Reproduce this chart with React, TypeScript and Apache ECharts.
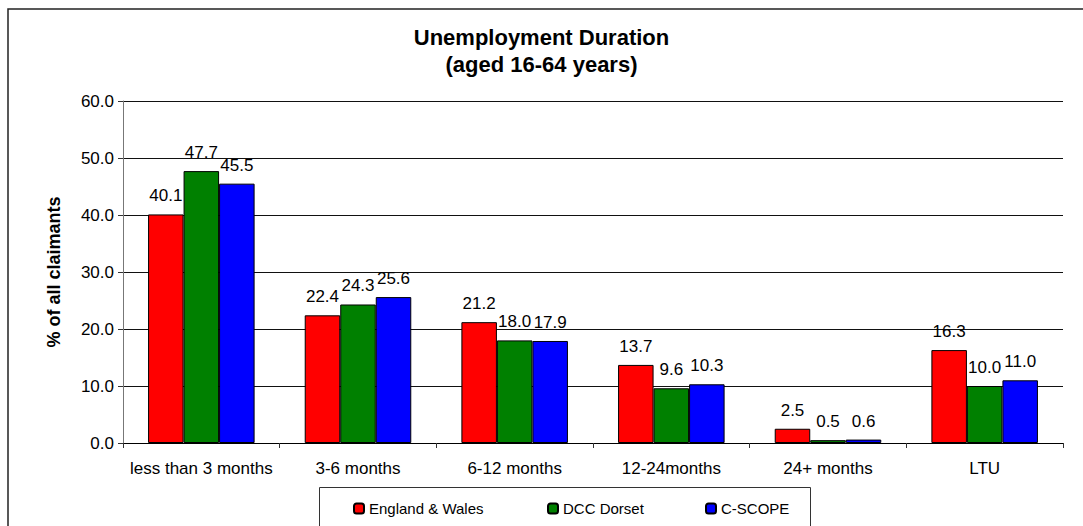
import React, { useEffect, useRef } from "react";
import * as echarts from "echarts";

const categories = ["less than 3 months", "3-6 months", "6-12 months", "12-24months", "24+ months", "LTU"];
const englandWales = [40.1, 22.4, 21.2, 13.7, 2.5, 16.3];
const dccDorset = [47.7, 24.3, 18.0, 9.6, 0.5, 10.0];
const cScope = [45.5, 25.6, 17.9, 10.3, 0.6, 11.0];
const seriesNames = ["England & Wales", "DCC Dorset", "C-SCOPE"];
const seriesColors = ["#ff0000", "#008000", "#0000ff"];
const titleLines = ["Unemployment Duration", "(aged 16-64 years)"];
const yAxisName = "% of all claimants";

const FONT = "'Liberation Sans', Arial, sans-serif";

export default function App() {
  const ref = useRef<HTMLDivElement>(null);
  useEffect(() => {
    if (!ref.current) return;
    const chart = echarts.init(ref.current, undefined, { renderer: "svg" });
    const values = [englandWales, dccDorset, cScope];
    const legendLefts = [353, 547, 705];
    chart.setOption({
      animation: false,
      backgroundColor: "#ffffff",
      textStyle: { fontFamily: FONT },
      title: {
        text: titleLines.join("\n"),
        left: "center",
        top: 24,
        padding: 0,
        textStyle: { fontFamily: FONT, fontSize: 22, fontWeight: "bold", color: "#000", lineHeight: 27 },
      },
      graphic: [
        {
          type: "rect",
          shape: { x: 8, y: 9, width: 1090, height: 540 },
          style: { fill: "none", stroke: "#222", lineWidth: 1.5 },
          silent: true,
          z: -1,
        },
        {
          type: "rect",
          shape: { x: 319.5, y: 487.5, width: 491, height: 60 },
          style: { fill: "none", stroke: "#333", lineWidth: 1 },
          silent: true,
          z: -1,
        },
      ],
      legend: seriesNames.map((n, i) => ({
        data: [n],
        left: legendLefts[i],
        top: 501,
        padding: 0,
        itemWidth: 10,
        itemHeight: 10,
        itemGap: 5,
        textStyle: { fontFamily: FONT, fontSize: 15, color: "#000" },
      })),
      grid: { left: 123, right: 20, top: 101, bottom: 83 },
      xAxis: {
        type: "category",
        data: categories,
        axisLine: { lineStyle: { color: "#000", width: 1 } },
        axisTick: { show: true, length: 5, lineStyle: { color: "#333" } },
        axisLabel: { fontFamily: FONT, fontSize: 17, color: "#000", margin: 17, interval: 0 },
      },
      yAxis: {
        type: "value",
        min: 0,
        max: 60,
        interval: 10,
        name: yAxisName,
        nameLocation: "middle",
        nameRotate: 90,
        nameGap: 60,
        nameTextStyle: { fontFamily: FONT, fontSize: 18, fontWeight: "bold", color: "#000" },
        axisLine: { show: true, lineStyle: { color: "#777", width: 1 } },
        axisTick: { show: true, length: 5, lineStyle: { color: "#333" } },
        axisLabel: {
          fontFamily: FONT,
          fontSize: 17,
          color: "#000",
          margin: 9,
          formatter: (v: number) => v.toFixed(1),
        },
        splitLine: { show: true, lineStyle: { color: "#111", width: 1 } },
      },
      series: seriesNames.map((n, i) => ({
        name: n,
        type: "bar",
        data: values[i],
        barGap: "0%",
        barCategoryGap: "32%",
        itemStyle: { color: seriesColors[i], borderColor: "#000", borderWidth: 1 },
        label: {
          show: true,
          position: "top",
          distance: 10,
          fontFamily: FONT,
          fontSize: 17,
          color: "#000",
          formatter: (p: any) => Number(p.value).toFixed(1),
        },
      })),
    });
    return () => chart.dispose();
  }, []);
  return (
    <div
      ref={ref}
      style={{ position: "absolute", left: 0, top: 0, width: 1083, height: 526 }}
    />
  );
}
